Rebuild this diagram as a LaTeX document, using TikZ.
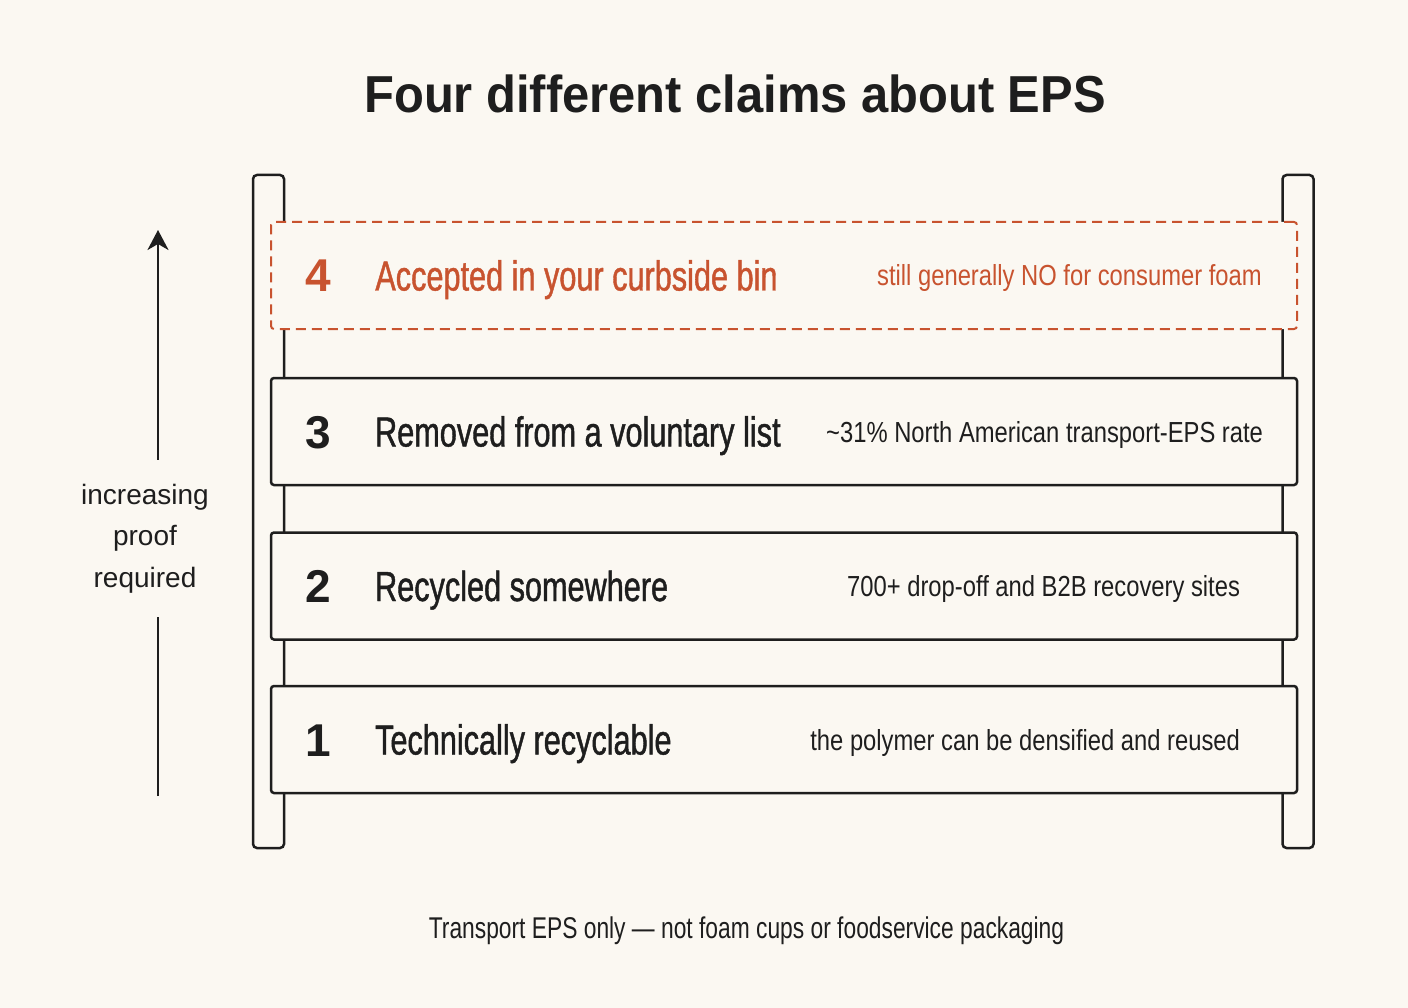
\documentclass[tikz,border=0pt]{standalone}
\usepackage{fontspec}
\setmainfont{Liberation Sans}
\newfontfamily\claimfont[FakeStretch=0.73,FakeBold=1]{Liberation Sans}
\newfontfamily\factfont[FakeStretch=0.82]{Liberation Sans}
\newfontfamily\notefont[FakeStretch=0.76]{Liberation Sans}
\newfontfamily\titlefont[FakeStretch=0.94]{Liberation Sans}
\usepackage{xcolor}
\usetikzlibrary{arrows.meta}
\usetikzlibrary{positioning}

\definecolor{paper}{HTML}{FBF8F2}
\definecolor{ink}{HTML}{1E1E1E}
\definecolor{rust}{HTML}{C8532F}

\begin{document}
\begin{tikzpicture}[x=1pt, y=-1pt, line width=2.5pt, draw=ink,
	>={Stealth[length=20pt, width=21pt, inset=6pt]},
	rail/.style={rectangle, rounded corners=4pt, draw=ink, fill=paper, minimum width=31pt, minimum height=673pt, inner sep=0pt},
	rung/.style={rectangle, rounded corners=3pt, draw=ink, fill=paper, minimum width=1026pt, minimum height=107pt, inner sep=0pt},
	open rung/.style={rung, draw=rust, line width=2pt, dash pattern=on 10pt off 6pt},
	num/.style={inner sep=0pt, text=ink, font=\fontsize{46}{46}\selectfont\bfseries, text height=33pt, text depth=0pt},
	claim/.style={inner sep=0pt, text=ink, font=\claimfont\fontsize{42}{42}\selectfont, text height=30pt, text depth=0pt},
	fact/.style={inner sep=0pt, text=ink, font=\factfont\fontsize{29}{29}\selectfont, text height=21pt, text depth=0pt},
]
\fill [paper] (0,0) rectangle (1408,1008);
\node [inner sep=0pt, text=ink, font=\titlefont\bfseries\fontsize{52}{52}\selectfont, text height=37pt, text depth=0pt] (Title) at (735,94) {Four different claims about EPS};
% ladder
\node [rail] (RailL) at (268.5,511.5) {};
\node [rail] (RailR) at (1298,511.5) {};
\node [open rung] (Rung4) at (784,275.5) {};
\node [rung]      (Rung3) at (784,431.5) {};
\node [rung]      (Rung2) at (784,586) {};
\node [rung]      (Rung1) at (784,739.5) {};
%
\node [num, text=rust]   (Num4) [right=34pt of Rung4.west] {4};
\node [claim, text=rust] (Claim4) [right=42pt of Num4] {Accepted in your curbside bin};
\node [fact, text=rust]  (Fact4) [left=35pt of Rung4.east] {still generally NO for consumer foam};
\node [num]   (Num3) [right=34pt of Rung3.west] {3};
\node [claim] (Claim3) [right=42pt of Num3] {Removed from a voluntary list};
\node [fact]  (Fact3) [left=34pt of Rung3.east] {\textasciitilde31\% North American transport-EPS rate};
\node [num]   (Num2) [right=34pt of Rung2.west] {2};
\node [claim] (Claim2) [right=42pt of Num2] {Recycled somewhere};
\node [fact]  (Fact2) [left=57pt of Rung2.east] {700+ drop-off and B2B recovery sites};
\node [num]   (Num1) [right=34pt of Rung1.west] {1};
\node [claim] (Claim1) [right=42pt of Num1] {Technically recyclable};
\node [fact]  (Fact1) [left=57pt of Rung1.east] {the polymer can be densified and reused};
% side arrow
\node [text=ink, align=center, inner sep=0pt, minimum height=155pt, font=\fontsize{28}{41.5}\selectfont] (Proof) at (145,538.5) {increasing\\proof\\required};
\coordinate (ArrowTip) at (158,230);
\coordinate (ArrowFoot) at (158,796);
\draw (ArrowFoot) -- (ArrowFoot |- Proof.south);
\draw [->] (ArrowTip |- Proof.north) -- (ArrowTip);
%
\node [inner sep=0pt, text=ink, font=\notefont\fontsize{30}{30}\selectfont, text height=21.5pt, text depth=0pt] (Note) at (746.5,927.5) {Transport EPS only — not foam cups or foodservice packaging};
\end{tikzpicture}
\end{document}
